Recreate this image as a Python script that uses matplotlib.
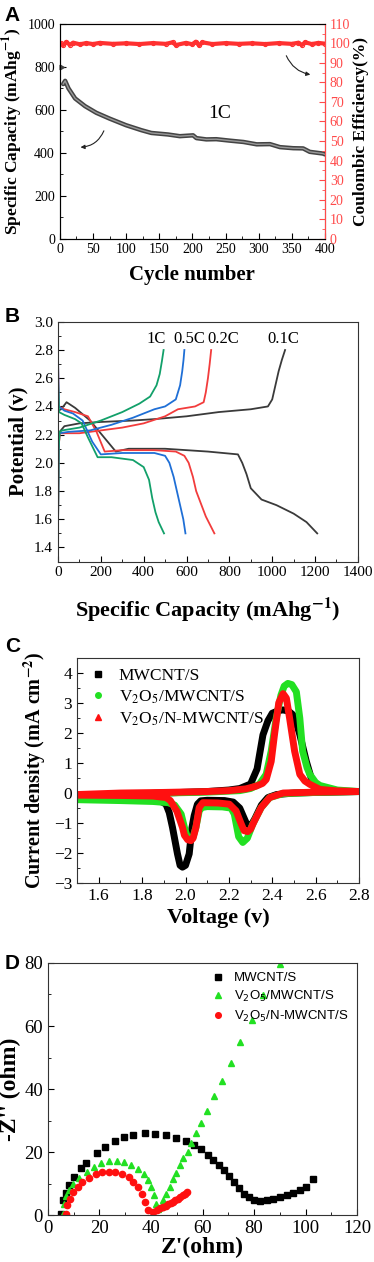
import numpy as np
import matplotlib
matplotlib.use("Agg")
import matplotlib.pyplot as plt
from matplotlib.ticker import MultipleLocator
from matplotlib.font_manager import FontProperties

plt.rcParams['font.family'] = ['Liberation Serif', 'DejaVu Serif']
plt.rcParams['mathtext.fontset'] = 'stix'

# ---- panel A: cycling at 1C
cyc = [1, 5, 8, 13, 23, 38, 55, 75, 100, 123, 138, 163, 181, 201, 206, 221, 236, 257,
       277, 297, 317, 332, 352, 367, 377, 397, 400]
cap = [800, 720, 735, 700, 653, 617, 586, 559, 528, 505, 492, 485, 477, 481, 468, 462,
       463, 456, 450, 439, 440, 426, 421, 420, 404, 396, 392]
ce_cyc = [1, 5, 10, 15, 20, 30, 40, 50, 60, 80, 100, 120, 140, 160, 170, 175, 190, 200,
          205, 210, 215, 230, 250, 270, 290, 310, 330, 350, 360, 365, 370, 380, 390, 400]
ce = [100, 99.2, 100.8, 99.3, 100.4, 99.6, 100.2, 99.7, 100.3, 99.8, 100.1, 99.7, 100.2,
      99.8, 100.6, 99.2, 100.3, 99.6, 100.9, 99.1, 100.6, 99.7, 100.2, 99.8, 100.1, 99.7,
      100.2, 99.8, 100.4, 99.2, 100.6, 99.7, 100.3, 99.9]

# ---- panel B: charge/discharge profiles
rates = ['0.1C', '0.2C', '0.5C', '1C']
rate_colors = ['#3a3a3a', '#f23c3c', '#1f6fd6', '#12a06a']
dis_x = [
    [0, 15, 40, 80, 150, 270, 330, 500, 700, 840, 860, 880, 900, 950, 1020, 1100, 1160, 1210],
    [0, 4, 30, 80, 140, 180, 218, 300, 450, 550, 590, 610, 630, 645, 670, 690, 730],
    [0, 4, 30, 70, 115, 160, 200, 300, 450, 500, 520, 540, 555, 570, 585, 595],
    [0, 5, 30, 80, 110, 140, 185, 250, 350, 400, 425, 440, 455, 470, 495],
]
dis_y = [
    [2.37, 2.38, 2.43, 2.39, 2.30, 2.08, 2.10, 2.10, 2.08, 2.06, 2.00, 1.92, 1.82, 1.74, 1.70, 1.64, 1.58, 1.50],
    [2.75, 2.40, 2.38, 2.36, 2.33, 2.22, 2.08, 2.09, 2.09, 2.08, 2.05, 2.00, 1.90, 1.80, 1.70, 1.62, 1.50],
    [2.78, 2.40, 2.37, 2.35, 2.30, 2.15, 2.06, 2.07, 2.07, 2.05, 2.00, 1.90, 1.80, 1.70, 1.60, 1.50],
    [2.60, 2.36, 2.34, 2.31, 2.28, 2.18, 2.04, 2.04, 2.02, 1.97, 1.88, 1.75, 1.65, 1.58, 1.50],
]
chg_x = [
    [0, 3, 8, 30, 100, 200, 350, 450, 600, 750, 900, 980, 1000, 1015, 1030, 1045, 1060],
    [0, 3, 8, 50, 100, 200, 300, 400, 500, 560, 640, 680, 690, 700, 708, 715],
    [0, 3, 6, 50, 150, 250, 350, 450, 500, 550, 570, 580, 586, 590],
    [0, 3, 8, 20, 100, 200, 300, 380, 430, 460, 475, 485, 493],
]
chg_y = [
    [1.50, 2.10, 2.22, 2.26, 2.28, 2.29, 2.30, 2.31, 2.33, 2.36, 2.38, 2.40, 2.45, 2.55, 2.65, 2.73, 2.80],
    [1.50, 2.10, 2.21, 2.21, 2.21, 2.23, 2.25, 2.28, 2.33, 2.38, 2.40, 2.43, 2.50, 2.60, 2.70, 2.80],
    [1.50, 2.10, 2.21, 2.22, 2.23, 2.27, 2.32, 2.38, 2.40, 2.45, 2.55, 2.65, 2.73, 2.80],
    [1.50, 2.10, 2.22, 2.23, 2.25, 2.30, 2.36, 2.42, 2.47, 2.55, 2.63, 2.72, 2.80],
]
rate_lbl_x = [1050, 770, 614, 459]

# ---- panel C: cyclic voltammetry (cathodic sweep then anodic sweep)
cv_labels = ['MWCNT/S', 'V$_2$O$_5$/MWCNT/S', 'V$_2$O$_5$/N-MWCNT/S']
cv_colors = ['#000000', '#22e022', '#ff1010']
cv_markers = ['s', 'o', '^']
cv_v = [
    [2.8, 2.6, 2.5, 2.42, 2.38, 2.35, 2.32, 2.30, 2.28, 2.25, 2.22, 2.18, 2.10, 2.07, 2.055,
     2.04, 2.03, 2.017, 2.0, 1.986, 1.975, 1.963, 1.94, 1.925, 1.91, 1.88, 1.8, 1.65, 1.5,
     1.5, 1.7, 1.9, 2.1, 2.2, 2.25, 2.3, 2.33, 2.357, 2.38, 2.40, 2.43, 2.45, 2.475, 2.495,
     2.51, 2.527, 2.557, 2.588, 2.62, 2.7, 2.8],
    [2.8, 2.6, 2.45, 2.388, 2.349, 2.31, 2.285, 2.264, 2.245, 2.225, 2.21, 2.17, 2.1, 2.075,
     2.063, 2.048, 2.035, 2.025, 2.01, 1.995, 1.98, 1.95, 1.92, 1.85, 1.7, 1.5,
     1.5, 1.7, 1.9, 2.1, 2.25, 2.3, 2.34, 2.372, 2.395, 2.418, 2.44, 2.455, 2.472, 2.49,
     2.511, 2.527, 2.54, 2.56, 2.573, 2.6, 2.62, 2.7, 2.8],
    [2.8, 2.6, 2.45, 2.388, 2.349, 2.318, 2.30, 2.287, 2.27, 2.257, 2.233, 2.202, 2.15, 2.08,
     2.063, 2.048, 2.035, 2.025, 2.01, 1.995, 1.986, 1.96, 1.93, 1.91, 1.85, 1.7, 1.5,
     1.5, 1.7, 1.9, 2.1, 2.2, 2.28, 2.326, 2.355, 2.372, 2.395, 2.41, 2.43, 2.45, 2.465,
     2.48, 2.503, 2.527, 2.55, 2.573, 2.62, 2.7, 2.8],
]
cv_i = [
    [0.05, 0.02, 0.0, -0.05, -0.15, -0.4, -0.85, -1.1, -1.0, -0.5, -0.3, -0.25, -0.24, -0.26,
     -0.37, -0.75, -1.14, -2.02, -2.4, -2.46, -2.4, -2.02, -1.14, -0.65, -0.37, -0.25, -0.2,
     -0.2, -0.2,
     -0.15, -0.05, 0.0, 0.05, 0.1, 0.15, 0.3, 0.8, 1.93, 2.4, 2.65, 2.74, 2.76, 2.72, 2.6,
     2.35, 1.94, 1.05, 0.29, 0.1, 0.06, 0.05],
    [0.05, 0.02, -0.02, -0.15, -0.48, -1.03, -1.5, -1.64, -1.45, -0.70, -0.5, -0.46, -0.45,
     -0.48, -0.6, -1.14, -1.45, -1.55, -1.5, -1.14, -0.7, -0.4, -0.32, -0.28, -0.25, -0.22,
     -0.12, -0.05, 0.0, 0.03, 0.08, 0.15, 0.29, 0.62, 1.39, 2.48, 3.25, 3.55, 3.64, 3.6,
     3.36, 2.48, 1.39, 0.85, 0.62, 0.35, 0.25, 0.1, 0.05],
    [0.05, 0.03, 0.0, -0.15, -0.48, -0.92, -1.2, -1.28, -1.25, -1.03, -0.59, -0.37, -0.33,
     -0.32, -0.48, -1.14, -1.5, -1.58, -1.55, -1.4, -1.14, -0.6, -0.25, -0.15, -0.1, -0.08,
     -0.07,
     -0.05, 0.0, 0.02, 0.05, 0.08, 0.14, 0.23, 0.32, 0.45, 1.05, 1.93, 3.0, 3.3, 3.15, 2.48,
     1.39, 0.62, 0.4, 0.29, 0.12, 0.07, 0.05],
]

# ---- panel D: Nyquist plots
eis_labels = ['MWCNT/S', 'V$_2$O$_5$/MWCNT/S', 'V$_2$O$_5$/N-MWCNT/S']
eis_colors = ['#000000', '#22e022', '#ff1010']
eis_markers = ['s', '^', 'o']
zr_black = [4.9, 5.7, 7.0, 8.3, 10.2, 12.8, 14.9, 19.2, 22.3, 26.2, 29.4, 33.2, 37.7, 41.5,
            46.0, 49.8, 53.6, 56.8, 59.6, 62.0, 64.2, 66.4, 68.3, 70.2, 72.2, 74.1, 76.0,
            77.9, 79.8, 82.4, 85.0, 87.5, 90.0, 92.6, 95.1, 97.7, 100.3, 102.8]
zi_black = [0.5, 4.8, 7.0, 9.6, 12.2, 14.9, 16.5, 19.7, 21.8, 23.4, 24.7, 25.5, 26.1, 25.9,
            25.3, 24.6, 23.4, 22.3, 21.0, 19.1, 17.6, 16.0, 14.4, 12.4, 10.6, 8.5, 6.9,
            5.9, 5.0, 4.6, 4.8, 5.3, 5.9, 6.4, 7.1, 8.0, 9.0, 11.4]
zr_green = [5.7, 6.1, 7.0, 8.3, 9.8, 12.1, 15.3, 17.9, 20.8, 23.9, 26.8, 29.4, 32.3, 35.1,
            37.3, 39.0, 40.2, 41.3, 42.1, 42.8, 43.7, 44.7, 46.0, 47.3, 48.5, 49.8, 51.1,
            52.4, 54.3, 55.5, 57.5, 59.4, 61.9, 64.5, 67.7, 70.9, 74.7, 79.2, 83.6, 90.0]
zi_green = [0.5, 3.7, 6.0, 8.0, 9.9, 11.7, 13.8, 15.4, 16.7, 17.2, 17.3, 16.8, 16.0, 14.7,
            13.1, 11.2, 9.0, 6.4, 3.7, 2.1, 2.7, 4.8, 6.9, 9.0, 11.4, 13.5, 16.0, 18.1,
            20.2, 22.9, 26.1, 29.3, 33.0, 37.8, 42.6, 48.4, 54.8, 62.0, 69.9, 79.5]
zr_red = [7.0, 7.6, 8.7, 9.8, 11.5, 13.4, 16.0, 18.5, 21.1, 23.6, 26.2, 28.7, 31.3, 33.2,
          34.9, 36.4, 37.7, 39.0, 40.6, 42.5, 43.6, 44.7, 45.7, 46.6, 47.6, 48.5, 49.5,
          50.4, 51.4, 52.4, 53.2, 54.0]
zi_red = [0.5, 3.2, 5.3, 7.4, 9.0, 10.6, 11.9, 13.0, 13.6, 13.8, 13.6, 13.0, 12.0, 10.6,
          9.0, 6.9, 4.3, 1.8, 1.1, 1.6, 2.2, 2.7, 3.1, 3.5, 3.9, 4.3, 4.8, 5.3, 5.9, 6.4,
          6.9, 7.4]

fig = plt.figure(figsize=(3.74, 12.62), dpi=100)


def style(ax, fs):
    ax.tick_params(which='both', direction='in', labelsize=fs)
    ax.tick_params(which='major', length=4)
    ax.tick_params(which='minor', length=2)
    for s in ax.spines.values():
        s.set_linewidth(0.8)
        s.set_color('#333333')


def letter(y, t):
    fig.text(0.013, y, t, fontsize=15, fontweight='bold', family='Liberation Sans', va='top')


# A
axA = fig.add_axes([0.160, 0.811, 0.709, 0.170])
axA.plot(cyc[1:], cap[1:], color='#444444', lw=3.2, solid_capstyle='round')
axA.plot(cyc[1:], cap[1:], color='#9a9a9a', lw=1.0)
axA.plot(cyc[:1], cap[:1], marker=(3, 0, -90), color='#444444', ms=4, clip_on=False)
axA.set_xlim(0, 400)
axA.set_ylim(0, 1000)
axA.xaxis.set_major_locator(MultipleLocator(50))
axA.xaxis.set_minor_locator(MultipleLocator(25))
axA.yaxis.set_major_locator(MultipleLocator(200))
axA.yaxis.set_minor_locator(MultipleLocator(100))
style(axA, 10)
axA.set_xlabel('Cycle number', fontsize=15, fontweight='bold', labelpad=6)
axA.set_ylabel('Specific Capacity (mAhg$^{\\mathbf{-1}}$)', fontsize=12.5, fontweight='bold', labelpad=2)
axA.text(241, 584, '1C', fontsize=14, ha='center', va='center')
axA.annotate('', xy=(27, 425), xytext=(68, 514),
             arrowprops=dict(arrowstyle='-|>', color='#222222', lw=0.8,
                             connectionstyle='arc3,rad=-0.35', mutation_scale=6))
axA.annotate('', xy=(382, 762), xytext=(340, 864),
             arrowprops=dict(arrowstyle='-|>', color='#222222', lw=0.8,
                             connectionstyle='arc3,rad=0.3', mutation_scale=6))
axA2 = axA.twinx()
axA2.plot(ce_cyc, ce, color='#ff3030', lw=3.0)
axA2.plot(ce_cyc, ce, 'o', color='#ff3030', ms=3, mfc='none', mew=0.8)
axA2.set_ylim(0, 110)
axA2.yaxis.set_major_locator(MultipleLocator(10))
axA2.yaxis.set_minor_locator(MultipleLocator(5))
axA2.tick_params(which='both', direction='in', labelsize=10, colors='#ff4a4a')
axA2.tick_params(which='major', length=4)
axA2.tick_params(which='minor', length=2)
axA2.spines['right'].set_color('#ff4a4a')
axA2.set_ylabel('Coulombic Efficiency(%)', fontsize=12.5, fontweight='bold', labelpad=2)
letter(0.995, 'A')

# B
axB = fig.add_axes([0.155, 0.555, 0.802, 0.190])
for k in range(4):
    axB.plot(dis_x[k], dis_y[k], color=rate_colors[k], lw=1.3)
    axB.plot(chg_x[k], chg_y[k], color=rate_colors[k], lw=1.3)
    axB.text(rate_lbl_x[k], 2.875, rates[k], fontsize=12, ha='center', va='center')
axB.set_xlim(0, 1400)
axB.set_ylim(1.3, 3.0)
axB.xaxis.set_major_locator(MultipleLocator(200))
axB.xaxis.set_minor_locator(MultipleLocator(100))
axB.yaxis.set_major_locator(MultipleLocator(0.2))
axB.yaxis.set_minor_locator(MultipleLocator(0.1))
axB.yaxis.set_major_formatter(plt.FormatStrFormatter('%.1f'))
style(axB, 11)
axB.set_xlabel('Specific Capacity (mAhg$^{\\mathbf{-1}}$)', fontsize=16, fontweight='bold', labelpad=12)
axB.set_ylabel('Potential (v)', fontsize=15, fontweight='bold', labelpad=4)
letter(0.757, 'B')

# C
axC = fig.add_axes([0.206, 0.300, 0.754, 0.179])
for k in range(3):
    axC.plot(cv_v[k], cv_i[k], color=cv_colors[k], lw=5, solid_joinstyle='round',
             solid_capstyle='round')
    axC.plot([], [], cv_markers[k], color=cv_colors[k], ms=4, label=cv_labels[k])
axC.set_xlim(1.5, 2.8)
axC.set_ylim(-3, 4.5)
axC.xaxis.set_major_locator(MultipleLocator(0.2))
axC.xaxis.set_minor_locator(MultipleLocator(0.1))
axC.yaxis.set_major_locator(MultipleLocator(1))
axC.yaxis.set_minor_locator(MultipleLocator(0.5))
axC.xaxis.set_major_formatter(plt.FormatStrFormatter('%.1f'))
style(axC, 12.5)
axC.legend(loc='upper left', frameon=False, fontsize=12.5, handletextpad=0.6,
           borderaxespad=0.2, labelspacing=0.25, handlelength=1.2)
axC.set_xlabel('Voltage (v)', fontsize=16, fontweight='bold', labelpad=3)
axC.set_ylabel('Current density (mA cm$^{\\mathbf{-2}}$)', fontsize=14.5, fontweight='bold', labelpad=4)
letter(0.495, 'C')

# D
axD = fig.add_axes([0.128, 0.037, 0.827, 0.200])
axD.plot(zr_black, zi_black, 's', color=eis_colors[0], ms=4.5, label=eis_labels[0])
axD.plot(zr_green, zi_green, '^', color=eis_colors[1], ms=5, label=eis_labels[1])
axD.plot(zr_red, zi_red, 'o', color=eis_colors[2], ms=4.5, label=eis_labels[2])
axD.set_xlim(0, 120)
axD.set_ylim(0, 80)
axD.xaxis.set_major_locator(MultipleLocator(20))
axD.xaxis.set_minor_locator(MultipleLocator(10))
axD.yaxis.set_major_locator(MultipleLocator(20))
axD.yaxis.set_minor_locator(MultipleLocator(10))
style(axD, 13.5)
legD = FontProperties(family='Liberation Sans', size=9.5, math_fontfamily='dejavusans')
axD.legend(loc='upper right', frameon=False, prop=legD, handletextpad=0.6,
           borderaxespad=0.3, labelspacing=0.35, handlelength=1.2, markerscale=0.9)
axD.set_xlabel("Z'(ohm)", fontsize=17, fontweight='bold', labelpad=0)
axD.set_ylabel("-Z'' (ohm)", fontsize=17, fontweight='bold', labelpad=2)
letter(0.244, 'D')

fig.savefig('out.png', dpi=100)
